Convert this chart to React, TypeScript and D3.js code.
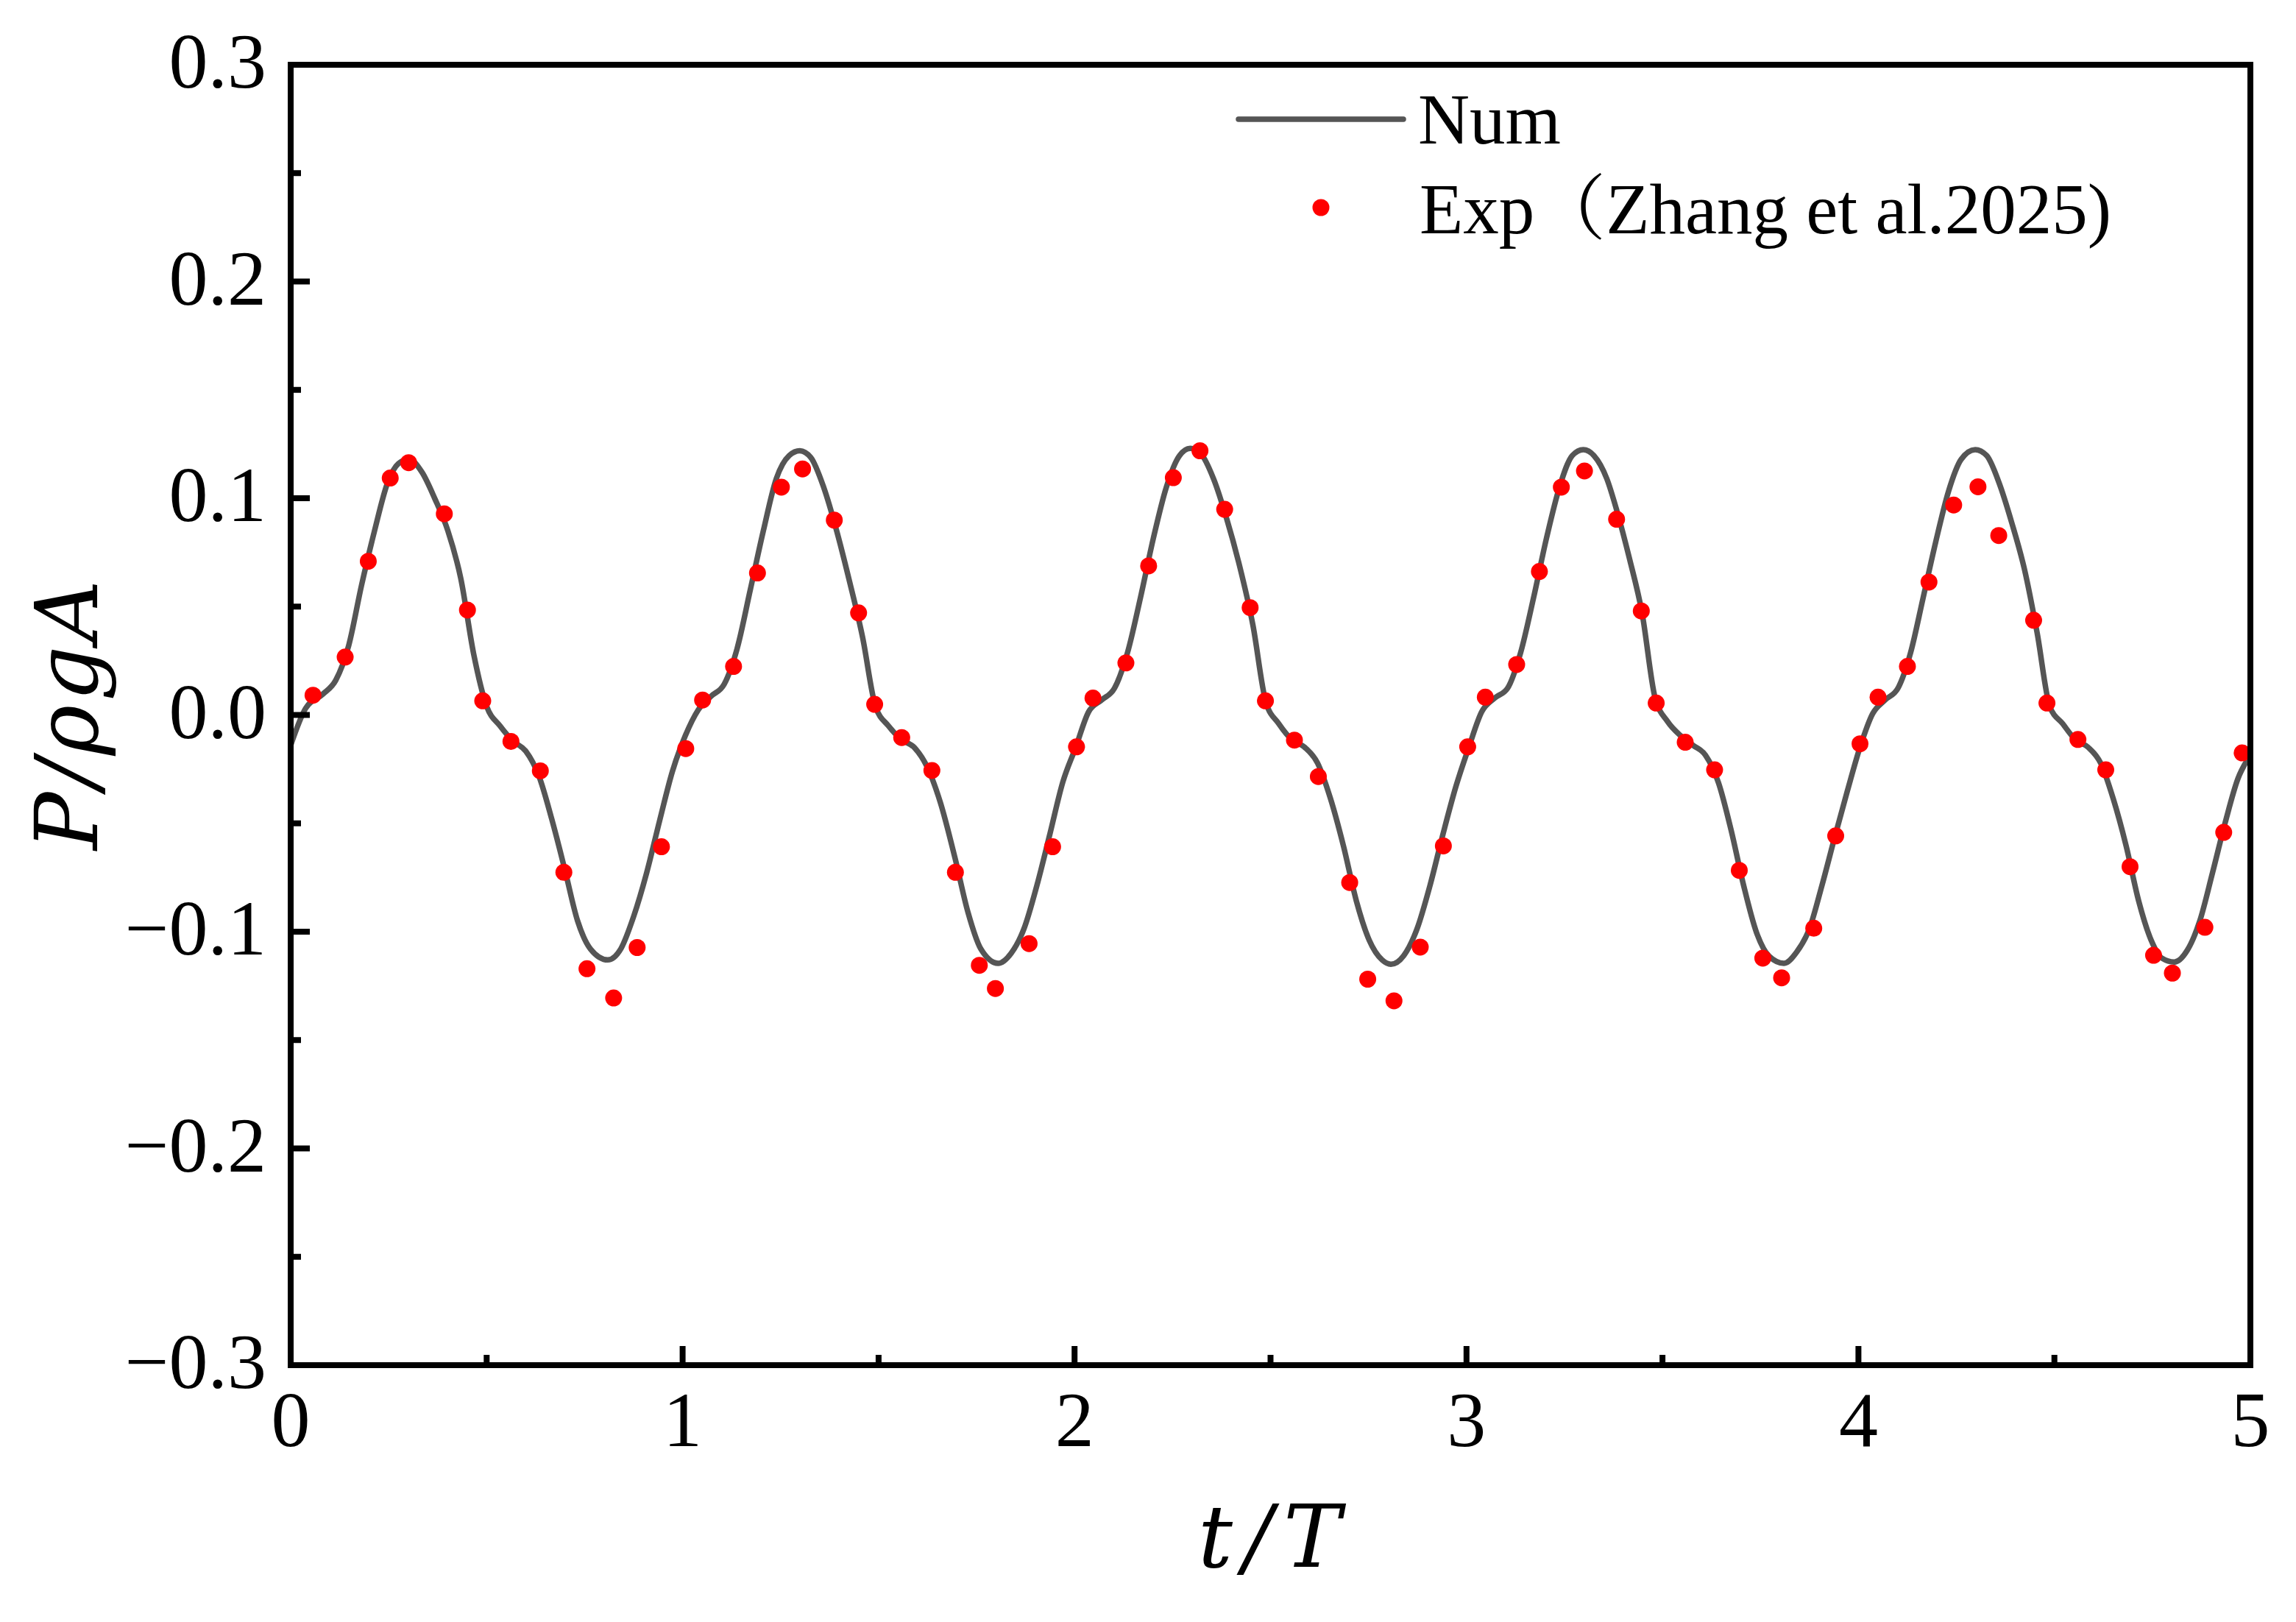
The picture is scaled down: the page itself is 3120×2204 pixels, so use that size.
import React from "react";
import * as d3 from "d3";

// ---- data ----
const numT = [0, 0.038, 0.082, 0.115, 0.148, 0.181, 0.214, 0.247, 0.275, 0.302, 0.335, 0.368, 0.401, 0.434, 0.467, 0.5, 0.534, 0.567, 0.6, 0.633, 0.666, 0.699, 0.732, 0.765, 0.809, 0.842, 0.875, 0.908, 0.941, 0.974, 1.007, 1.04, 1.073, 1.106, 1.139, 1.173, 1.206, 1.239, 1.272, 1.299, 1.327, 1.36, 1.393, 1.426, 1.459, 1.492, 1.525, 1.558, 1.591, 1.624, 1.657, 1.695, 1.728, 1.761, 1.805, 1.838, 1.871, 1.904, 1.937, 1.97, 2.003, 2.036, 2.069, 2.102, 2.135, 2.168, 2.201, 2.234, 2.268, 2.295, 2.322, 2.355, 2.388, 2.421, 2.455, 2.488, 2.521, 2.554, 2.587, 2.62, 2.653, 2.686, 2.719, 2.752, 2.785, 2.807, 2.84, 2.874, 2.907, 2.94, 2.973, 3.006, 3.039, 3.072, 3.105, 3.138, 3.171, 3.204, 3.237, 3.27, 3.298, 3.325, 3.358, 3.384, 3.416, 3.448, 3.481, 3.513, 3.546, 3.578, 3.61, 3.643, 3.675, 3.707, 3.74, 3.772, 3.81, 3.842, 3.875, 3.907, 3.939, 3.972, 4.004, 4.036, 4.068, 4.101, 4.133, 4.165, 4.197, 4.23, 4.262, 4.298, 4.327, 4.359, 4.391, 4.424, 4.456, 4.488, 4.521, 4.553, 4.586, 4.618, 4.65, 4.683, 4.715, 4.747, 4.774, 4.806, 4.839, 4.871, 4.903, 4.936, 4.968, 5.0];
const numV = [-0.014, 0.003, 0.0096, 0.016, 0.032, 0.06, 0.085, 0.107, 0.116, 0.118, 0.112, 0.0997, 0.085, 0.063, 0.028, 0.004, -0.005, -0.012, -0.0167, -0.028, -0.048, -0.071, -0.095, -0.108, -0.113, -0.108, -0.093, -0.073, -0.049, -0.026, -0.0095, 0.0024, 0.0087, 0.0142, 0.0306, 0.058, 0.085, 0.109, 0.1197, 0.1219, 0.1188, 0.105, 0.085, 0.0615, 0.036, 0.004, -0.005, -0.0113, -0.015, -0.024, -0.04, -0.066, -0.091, -0.108, -0.1146, -0.11, -0.0986, -0.0786, -0.055, -0.031, -0.0149, 0.0015, 0.0069, 0.0124, 0.0287, 0.054, 0.0815, 0.105, 0.1197, 0.123, 0.1206, 0.1088, 0.0906, 0.0688, 0.0415, 0.006, -0.004, -0.0113, -0.0149, -0.0222, -0.0386, -0.0604, -0.0858, -0.104, -0.1131, -0.115, -0.111, -0.0986, -0.0786, -0.055, -0.033, -0.0149, 0.0015, 0.0078, 0.0124, 0.0287, 0.054, 0.0815, 0.105, 0.1197, 0.1224, 0.1197, 0.109, 0.094, 0.072, 0.047, 0.008, -0.003, -0.0095, -0.014, -0.0186, -0.0313, -0.053, -0.0786, -0.1004, -0.1113, -0.1146, -0.1095, -0.0986, -0.0786, -0.0567, -0.0349, -0.0149, 0.0005, 0.0069, 0.0124, 0.0287, 0.054, 0.0797, 0.1033, 0.1179, 0.1224, 0.1197, 0.107, 0.0888, 0.0669, 0.0378, 0.004, -0.004, -0.0113, -0.0149, -0.0222, -0.0386, -0.0604, -0.0858, -0.104, -0.1122, -0.114, -0.1086, -0.095, -0.0731, -0.0495, -0.0295, -0.0186];

const expT = [0.057, 0.139, 0.198, 0.254, 0.301, 0.392, 0.451, 0.49, 0.562, 0.637, 0.697, 0.756, 0.824, 0.884, 0.946, 1.008, 1.051, 1.13, 1.191, 1.252, 1.306, 1.387, 1.449, 1.49, 1.559, 1.636, 1.696, 1.757, 1.798, 1.884, 1.944, 2.005, 2.047, 2.131, 2.189, 2.252, 2.32, 2.383, 2.448, 2.487, 2.561, 2.622, 2.702, 2.748, 2.815, 2.882, 2.941, 3.003, 3.048, 3.128, 3.186, 3.242, 3.301, 3.383, 3.446, 3.484, 3.558, 3.633, 3.696, 3.756, 3.804, 3.886, 3.942, 4.004, 4.05, 4.125, 4.18, 4.243, 4.305, 4.358, 4.447, 4.481, 4.56, 4.631, 4.693, 4.753, 4.801, 4.884, 4.932, 4.979];
const expV = [0.0091, 0.0267, 0.0709, 0.1093, 0.1164, 0.0928, 0.0484, 0.0065, -0.0122, -0.0258, -0.0726, -0.1171, -0.1306, -0.1073, -0.0608, -0.0155, 0.0069, 0.0224, 0.0655, 0.1051, 0.1135, 0.0899, 0.0471, 0.0049, -0.0104, -0.0256, -0.0726, -0.1155, -0.1262, -0.1055, -0.0608, -0.0147, 0.0078, 0.024, 0.0688, 0.1095, 0.1219, 0.0949, 0.0495, 0.0065, -0.0116, -0.0284, -0.0773, -0.1219, -0.1319, -0.1071, -0.0604, -0.0147, 0.0082, 0.0233, 0.0662, 0.1051, 0.1126, 0.0903, 0.048, 0.0055, -0.0126, -0.0253, -0.0717, -0.1122, -0.1213, -0.0984, -0.0558, -0.0133, 0.0082, 0.0224, 0.0613, 0.0969, 0.1053, 0.0828, 0.0437, 0.0055, -0.0113, -0.0253, -0.07, -0.1109, -0.1191, -0.098, -0.0542, -0.0175];

const xTicks = [0, 1, 2, 3, 4, 5];
const xMinor = [0.5, 1.5, 2.5, 3.5, 4.5];
const yTicks = [-0.3, -0.2, -0.1, 0.0, 0.1, 0.2, 0.3];
const yTickLabels = ["\u22120.3", "\u22120.2", "\u22120.1", "0.0", "0.1", "0.2", "0.3"];
const yMinor = [-0.25, -0.15, -0.05, 0.05, 0.15, 0.25];
const legendLabels = ["Num", "Exp\uFF08Zhang et al.2025)"];

const W = 3120;
const H = 2204;
const L = 395, R = 3058, T = 88, B = 1855;

const serif = "'Liberation Serif', 'Times New Roman', 'Noto Serif CJK SC', 'Noto Sans CJK SC', serif";
const mathFont = "'DejaVu Serif', serif";

export default function App() {
  const x = d3.scaleLinear().domain([0, 5]).range([L, R]);
  const y = d3.scaleLinear().domain([-0.3, 0.3]).range([B, T]);

  const numData = numT.map((t, i) => [t, numV[i]] as [number, number]);
  const line = d3
    .line<[number, number]>()
    .x((d) => x(d[0]))
    .y((d) => y(d[1]))
    .curve(d3.curveMonotoneX);

  const lineColor = "#555555";

  return (
    <svg
      width={W}
      height={H}
      viewBox={`0 0 ${W} ${H}`}
      style={{ position: "absolute", left: 0, top: 0, background: "#fff" }}
    >
      <rect x={0} y={0} width={W} height={H} fill="#fff" />
      {/* curve */}
      <path d={line(numData) || ""} fill="none" stroke={lineColor} strokeWidth={7.5} strokeLinejoin="round" />
      {/* experiment dots */}
      {expT.map((t, i) => (
        <circle key={i} cx={x(t)} cy={y(expV[i])} r={11.5} fill="#ff0000" />
      ))}

      {/* ticks */}
      {xTicks.map((t) => (
        <line key={"xt" + t} x1={x(t)} x2={x(t)} y1={B} y2={B - 26} stroke="#000" strokeWidth={8} />
      ))}
      {xMinor.map((t) => (
        <line key={"xm" + t} x1={x(t)} x2={x(t)} y1={B} y2={B - 14} stroke="#000" strokeWidth={8} />
      ))}
      {yTicks.map((v) => (
        <line key={"yt" + v} x1={L} x2={L + 26} y1={y(v)} y2={y(v)} stroke="#000" strokeWidth={8} />
      ))}
      {yMinor.map((v) => (
        <line key={"ym" + v} x1={L} x2={L + 14} y1={y(v)} y2={y(v)} stroke="#000" strokeWidth={8} />
      ))}

      {/* frame */}
      <rect x={L} y={T} width={R - L} height={B - T} fill="none" stroke="#000" strokeWidth={8} />

      {/* tick labels */}
      {xTicks.map((t) => (
        <text key={"xl" + t} x={x(t)} y={1965} fontFamily={serif} fontSize={106} textAnchor="middle" fill="#000">
          {String(t)}
        </text>
      ))}
      {yTicks.map((v, i) => (
        <text key={"yl" + v} x={362} y={y(v) + 31} fontFamily={serif} fontSize={106} textAnchor="end" fill="#000">
          {yTickLabels[i]}
        </text>
      ))}

      {/* axis titles */}
      <text
        x={1725}
        y={2129}
        fontFamily={mathFont}
        fontStyle="italic"
        fontSize={117}
        textAnchor="middle"
        textLength={194}
        lengthAdjust="spacing"
        fill="#000"
      >
        t/T
      </text>
      <text
        transform={`translate(132, ${(T + B) / 2}) rotate(-90)`}
        fontFamily={mathFont}
        fontStyle="italic"
        fontSize={117}
        textAnchor="middle"
        textLength={367}
        lengthAdjust="spacing"
        fill="#000"
      >
        P/ρgA
      </text>

      {/* legend */}
      <line x1={1683} x2={1907} y1={162} y2={162} stroke={lineColor} strokeWidth={7.5} strokeLinecap="round" />
      <text x={1927} y={195} fontFamily={serif} fontSize={97} fill="#000">
        {legendLabels[0]}
      </text>
      <circle cx={1795} cy={282} r={11.5} fill="#ff0000" />
      <text x={1929} y={317} fontFamily={serif} fontSize={97} fill="#000">
        {legendLabels[1]}
      </text>
    </svg>
  );
}
